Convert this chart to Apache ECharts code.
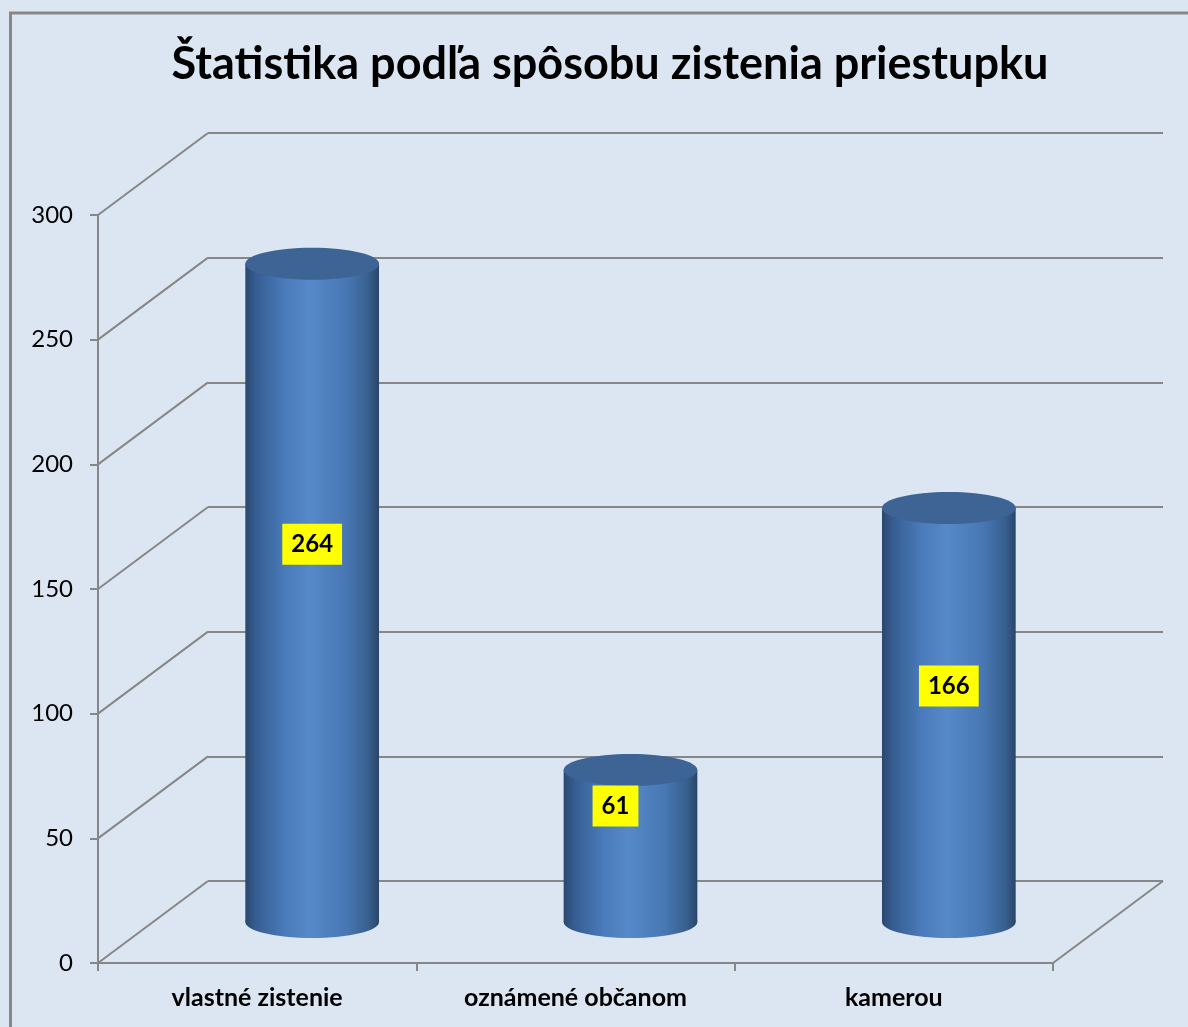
<!DOCTYPE html>
<html>
<head>
<meta charset="utf-8">
<script src="https://cdn.jsdelivr.net/npm/echarts@6/dist/echarts.min.js"></script>
<style>
html,body{margin:0;padding:0;background:#ffffff;}
#chart{width:1188px;height:1027px;}
</style>
</head>
<body>
<div id="chart"></div>
<script>
var titleText = 'Štatistika podľa spôsobu zistenia priestupku';
var categories = ['vlastné zistenie', 'oznámené občanom', 'kamerou'];
var values = [264, 61, 166];
var yTicks = [0, 50, 100, 150, 200, 250, 300];

var DX = 110, DY = -82; // depth offset of the 3D back wall
var GRID_COLOR = '#878787';
var FONT = 'Lato, "Open Sans", sans-serif';

var chart = echarts.init(document.getElementById('chart'), null, {renderer: 'canvas'});

function renderWalls(params, api) {
  var cs = params.coordSys;
  var v = api.value(0);
  var p = api.coord([0, v]);
  var x0 = cs.x, y0 = p[1];
  var children = [{
    type: 'line',
    shape: {x1: x0, y1: y0, x2: x0 + DX, y2: y0 + DY},
    style: {stroke: GRID_COLOR, lineWidth: 2}
  }];
  if (v === 0) {
    children.push({
      type: 'line',
      shape: {x1: cs.x + cs.width, y1: y0, x2: cs.x + cs.width + DX, y2: y0 + DY},
      style: {stroke: GRID_COLOR, lineWidth: 2}
    });
  }
  return {type: 'group', children: children};
}

function renderCylinder(params, api) {
  var idx = api.value(0), v = api.value(1);
  var top = api.coord([idx, v]);
  var base = api.coord([idx, 0]);
  var cx = top[0] + DX / 2;
  var ty = top[1] + DY / 2;
  var by = base[1] + DY / 2;
  var w = api.size([1, 0])[0] * 0.42;
  var rx = w / 2, ry = 16;
  var grad = new echarts.graphic.LinearGradient(0, 0, 1, 0, [
    {offset: 0, color: '#2a486f'},
    {offset: 0.08, color: '#365d91'},
    {offset: 0.3, color: '#4a7bbb'},
    {offset: 0.48, color: '#5689c9'},
    {offset: 0.75, color: '#4878b4'},
    {offset: 0.92, color: '#38608f'},
    {offset: 1, color: '#2a456a'}
  ]);
  var labelY, labelX = cx;
  if (v >= 100) {
    labelY = ty + (by - ty) * 0.42 + 4;
  } else {
    labelY = ty + 36;
    labelX = cx - 15;
  }
  return {
    type: 'group',
    children: [
      {type: 'ellipse', shape: {cx: cx, cy: by, rx: rx, ry: ry}, style: {fill: grad}},
      {type: 'rect', shape: {x: cx - rx, y: ty, width: w, height: by - ty}, style: {fill: grad}},
      {type: 'ellipse', shape: {cx: cx, cy: ty, rx: rx, ry: ry}, style: {fill: '#3d6494'}},
      {type: 'text', x: labelX, y: labelY, style: {
        text: String(v), fill: '#000000', font: 'bold 24px ' + FONT,
        align: 'center', verticalAlign: 'middle',
        backgroundColor: '#ffff00', padding: [9, 9, 8, 9]
      }}
    ]
  };
}

var option = {
  backgroundColor: '#dce6f2',
  animation: false,
  title: {
    text: titleText,
    left: 605, top: 37, textAlign: 'center',
    textStyle: {fontFamily: FONT, fontWeight: 'bold', fontSize: 45, color: '#000000'}
  },
  graphic: [{
    type: 'polyline',
    shape: {points: [[10.5, 1040], [10.5, 13], [1200, 13]]},
    style: {stroke: '#878787', lineWidth: 3, fill: null},
    z: 100
  }],
  grid: [
    {left: 98, top: 215, width: 955, height: 748},
    {left: 208, top: 133, width: 955, height: 748}
  ],
  xAxis: [{
    type: 'category', gridIndex: 0, data: categories, boundaryGap: true,
    axisLine: {show: true, lineStyle: {color: GRID_COLOR, width: 2}},
    axisTick: {show: true, length: 8, lineStyle: {color: GRID_COLOR, width: 2}},
    axisLabel: {color: '#000', fontFamily: FONT, fontWeight: 'bold', fontSize: 25, margin: 22},
    splitLine: {show: false}
  }, {
    type: 'category', gridIndex: 1, data: categories, show: false
  }],
  yAxis: [{
    type: 'value', gridIndex: 0, min: 0, max: 300, interval: 50,
    axisLine: {show: true, lineStyle: {color: GRID_COLOR, width: 2}},
    axisTick: {show: true, length: 8, lineStyle: {color: GRID_COLOR, width: 2}},
    axisLabel: {color: '#000', fontFamily: FONT, fontSize: 24, margin: 25},
    splitLine: {show: false}
  }, {
    type: 'value', gridIndex: 1, min: 0, max: 300, interval: 50,
    axisLine: {show: false}, axisTick: {show: false}, axisLabel: {show: false},
    splitLine: {show: true, lineStyle: {color: GRID_COLOR, width: 2}}
  }],
  series: [{
    type: 'custom', xAxisIndex: 0, yAxisIndex: 0, z: 1,
    renderItem: renderWalls,
    data: yTicks.map(function (t) { return [t]; }),
    encode: {y: 0}
  }, {
    type: 'custom', xAxisIndex: 0, yAxisIndex: 0, z: 5,
    renderItem: renderCylinder,
    data: values.map(function (v, i) { return [i, v]; }),
    encode: {x: 0, y: 1}
  }]
};
chart.setOption(option);
</script>
</body>
</html>
